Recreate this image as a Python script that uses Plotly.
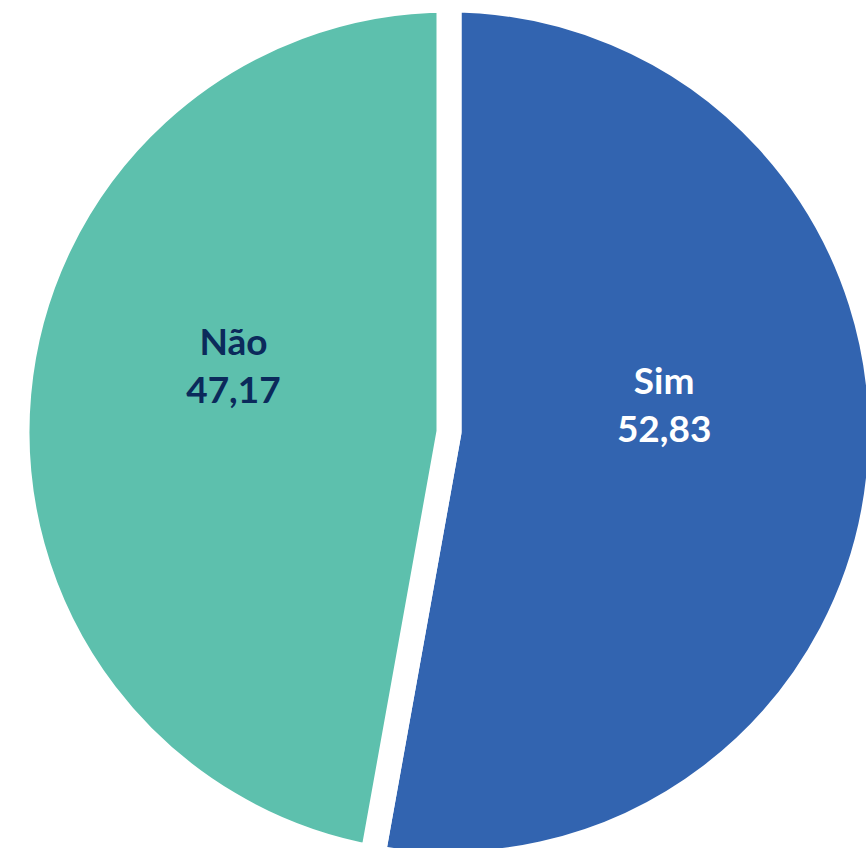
import plotly.graph_objects as go

labels = ["Sim", "Não"]
values = [52.83, 47.17]
slice_colors = ["#3264B0", "#5DC0AD"]
text_colors = ["#FFFFFF", "#0B2A5B"]

W, H = 900, 864
cx, R = 449, 432

fig = go.Figure(go.Pie(
    labels=labels,
    values=values,
    sort=False,
    direction="clockwise",
    rotation=0,
    marker=dict(colors=slice_colors, line=dict(color="white", width=25)),
    texttemplate="<b>%{label}</b><br><b>%{value:.2f}</b><br>&nbsp;<br>&nbsp;",
    textposition="inside",
    insidetextorientation="horizontal",
    textfont=dict(family="Lato", size=37, color=text_colors),
    hoverinfo="skip",
    domain=dict(x=[(cx - R) / W, (cx + R) / W], y=[0, 1]),
))

fig.update_layout(
    width=W, height=H,
    margin=dict(l=0, r=0, t=0, b=0),
    paper_bgcolor="white",
    showlegend=False,
    separators=",.",
)

fig.write_html(
    "out.html",
    config={"displayModeBar": False},
    post_script="document.body.style.margin='0';document.body.style.overflow='hidden';document.documentElement.style.overflow='hidden';",
)
